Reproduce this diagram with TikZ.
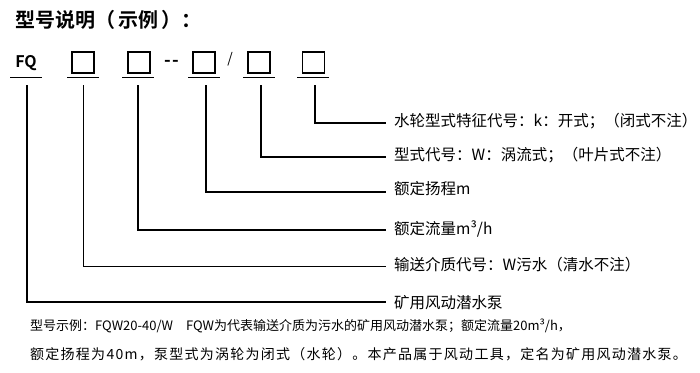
\documentclass[tikz,border=0pt]{standalone}
\usepackage{fontspec}
\setmainfont{Noto Sans CJK SC}[BoldFont=* Bold]
\newfontfamily\spacedcjk{Noto Sans CJK SC}[LetterSpace=9]
\begin{document}
\begin{tikzpicture}[x=1pt,y=-1pt,
  codebox/.style={draw,line width=1.3pt,minimum width=22pt,minimum height=21pt,inner sep=0pt},
  uline/.style={line width=0.9pt},
  conn/.style={line width=1.4pt},
  lab/.style={anchor=west,inner sep=0pt,font=\fontsize{15.5}{15.5}\selectfont},
  note/.style={anchor=west,inner sep=0pt,font=\fontsize{13}{13}\selectfont}]
\useasboundingbox (0,0) rectangle (700,372);
\node[anchor=west,inner sep=0pt,font=\fontsize{20}{20}\selectfont\bfseries] (title) at (15,20) {型号说明（\kern3pt 示例\kern3pt ）：};
% code row
\node[inner sep=0pt,font=\fontsize{16}{16}\selectfont\bfseries] (fq) at (26,63) {FQ};
\node[codebox] (b1) at (83,62.5) {};
\node[codebox] (b2) at (139,62.5) {};
\node[inner sep=0pt,font=\fontsize{18}{18}\selectfont\bfseries] (dash) at (172,63) {-\kern1.5pt-};
\node[codebox] (b3) at (204,62.5) {};
\node[inner sep=0pt,font=\fontsize{14}{14}\selectfont] (slash) at (230,59) {/};
\node[codebox] (b4) at (259,62.5) {};
\node[codebox] (b5) at (313.5,62.5) {};
% underlines
\foreach \n/\a/\b in {fq/10/42,b1/67/99,b2/122/154,b3/188/220,b4/243/275,b5/297/329}{
  \coordinate (\n l) at (\a,77);
  \coordinate (\n r) at (\b,77);
  \draw[uline] (\n l) -- (\n r);
}
% start points of connectors
\coordinate (sfq) at (27,85);
\coordinate (sb1) at (83,85);
\coordinate (sb2) at (138,85);
\coordinate (sb3) at (206,85);
\coordinate (sb4) at (261,85);
\coordinate (sb5) at (315,85);
% end points
\coordinate (e1) at (386,123);
\coordinate (e2) at (386,157);
\coordinate (e3) at (386,192);
\coordinate (e4) at (386,230);
\coordinate (e5) at (386,266);
\coordinate (e6) at (386,302);
\draw[conn] (sb5) |- (e1);
\draw[conn] (sb4) |- (e2);
\draw[conn] (sb3) |- (e3);
\draw[conn] (sb2) |- (e4);
\draw[conn,line width=1pt] (sb1) |- (e5);
\draw[conn] (sfq) |- (e6);
% labels
\node[lab] (l1) at ([xshift=8pt,yshift=2pt]e1) {水轮型式特征代号：k：开式；（闭式不注）};
\node[lab] (l2) at ([xshift=8pt,yshift=2pt]e2) {型式代号：W：涡流式；（叶片式不注）};
\node[lab] (l3) at ([xshift=8pt,yshift=3pt]e3) {额定扬程m};
\node[lab] (l4) at ([xshift=8pt,yshift=1pt]e4) {额定流量m³/h};
\node[lab] (l5) at ([xshift=8pt,yshift=1pt]e5) {输送介质代号：W污水（清水不注）};
\node[lab] (l6) at ([xshift=8pt,yshift=-1pt]e6) {矿用风动潜水泵};
% notes
\node[note] (n1) at (30,326) {型号示例：FQW20-40/W\quad FQW为代表输送介质为污水的矿用风动潜水泵；额定流量20m³/h，};
\node[note,font=\spacedcjk\fontsize{14}{14}\selectfont] (n2) at (30,354) {额定扬程为40m，泵型式为涡轮为闭式（水轮）。本产品属于风动工具，定名为矿用风动潜水泵。};
\end{tikzpicture}
\end{document}
